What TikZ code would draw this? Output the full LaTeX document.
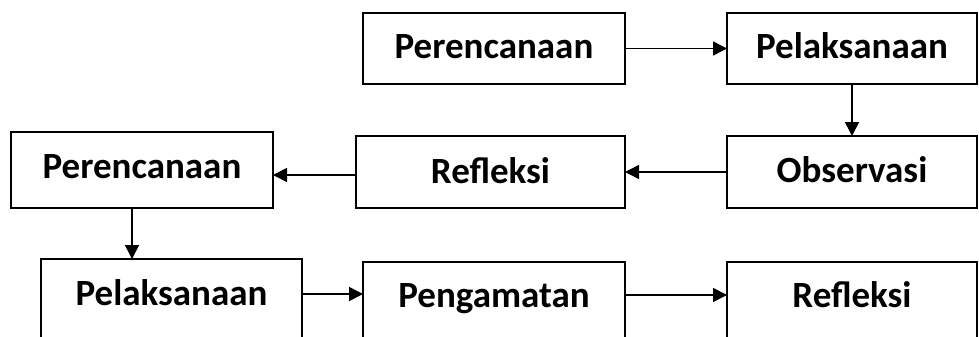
\documentclass[tikz,border=0pt]{standalone}
\usepackage{fontspec}
\setmainfont{Carlito}
\usetikzlibrary{arrows.meta}

\begin{document}
\begin{tikzpicture}[x=1pt, y=-1pt,
  stagebox/.style={draw, line width=1.6pt, anchor=north west, inner sep=0pt, outer sep=0pt,
    font=\fontsize{37}{44}\selectfont\bfseries, text height=46pt, text depth=25pt},
  flow/.style={line width=1.6pt, -{Triangle[length=14pt, width=14pt]}}]
  \useasboundingbox (0,0) rectangle (979,337);
  \clip (0,0) rectangle (979,337);

  % first cycle
  \node[stagebox, minimum width=262pt] (plan1) at (363,13) {Perencanaan};
  \node[stagebox, minimum width=250pt] (act1) at (727,13) {Pelaksanaan};
  \node[stagebox, minimum width=250pt, text height=46pt, text depth=26pt] (obs1) at (727,136) {Observasi};
  \node[stagebox, minimum width=269pt, text height=47pt] (ref1) at (356,136) {Refleksi};

  % second cycle
  \node[stagebox, minimum width=262pt, text depth=30pt] (plan2) at (11,132) {Perencanaan};
  \node[stagebox, minimum width=261pt, text depth=110pt] (act2) at (41,259) {Pelaksanaan};
  \node[stagebox, minimum width=262pt, text height=45pt, text depth=110pt] (obs2) at (363,262) {Pengamatan};
  \node[stagebox, minimum width=250pt, text height=45pt, text depth=110pt] (ref2) at (727,262) {Refleksi};

  % connectors (yshift is in page direction: negative moves down)
  \draw[flow] (plan1.east) -- (act1.west);
  \draw[flow] (act1.south) -- (obs1.north);
  \draw[flow] (obs1.west) -- (ref1.east);
  \draw[flow] ([yshift=-3pt]ref1.west) -- ([yshift=-3pt]ref1.west -| plan2.east);
  \draw[flow] ([xshift=-10pt]plan2.south) -- ([xshift=-10pt]plan2.south |- act2.north);
  \draw[flow] ([yshift=-35pt]act2.north east) -- ([yshift=-35pt]act2.north east -| obs2.west);
  \draw[flow] ([yshift=-33pt]obs2.north east) -- ([yshift=-33pt]obs2.north east -| ref2.west);
\end{tikzpicture}
\end{document}
